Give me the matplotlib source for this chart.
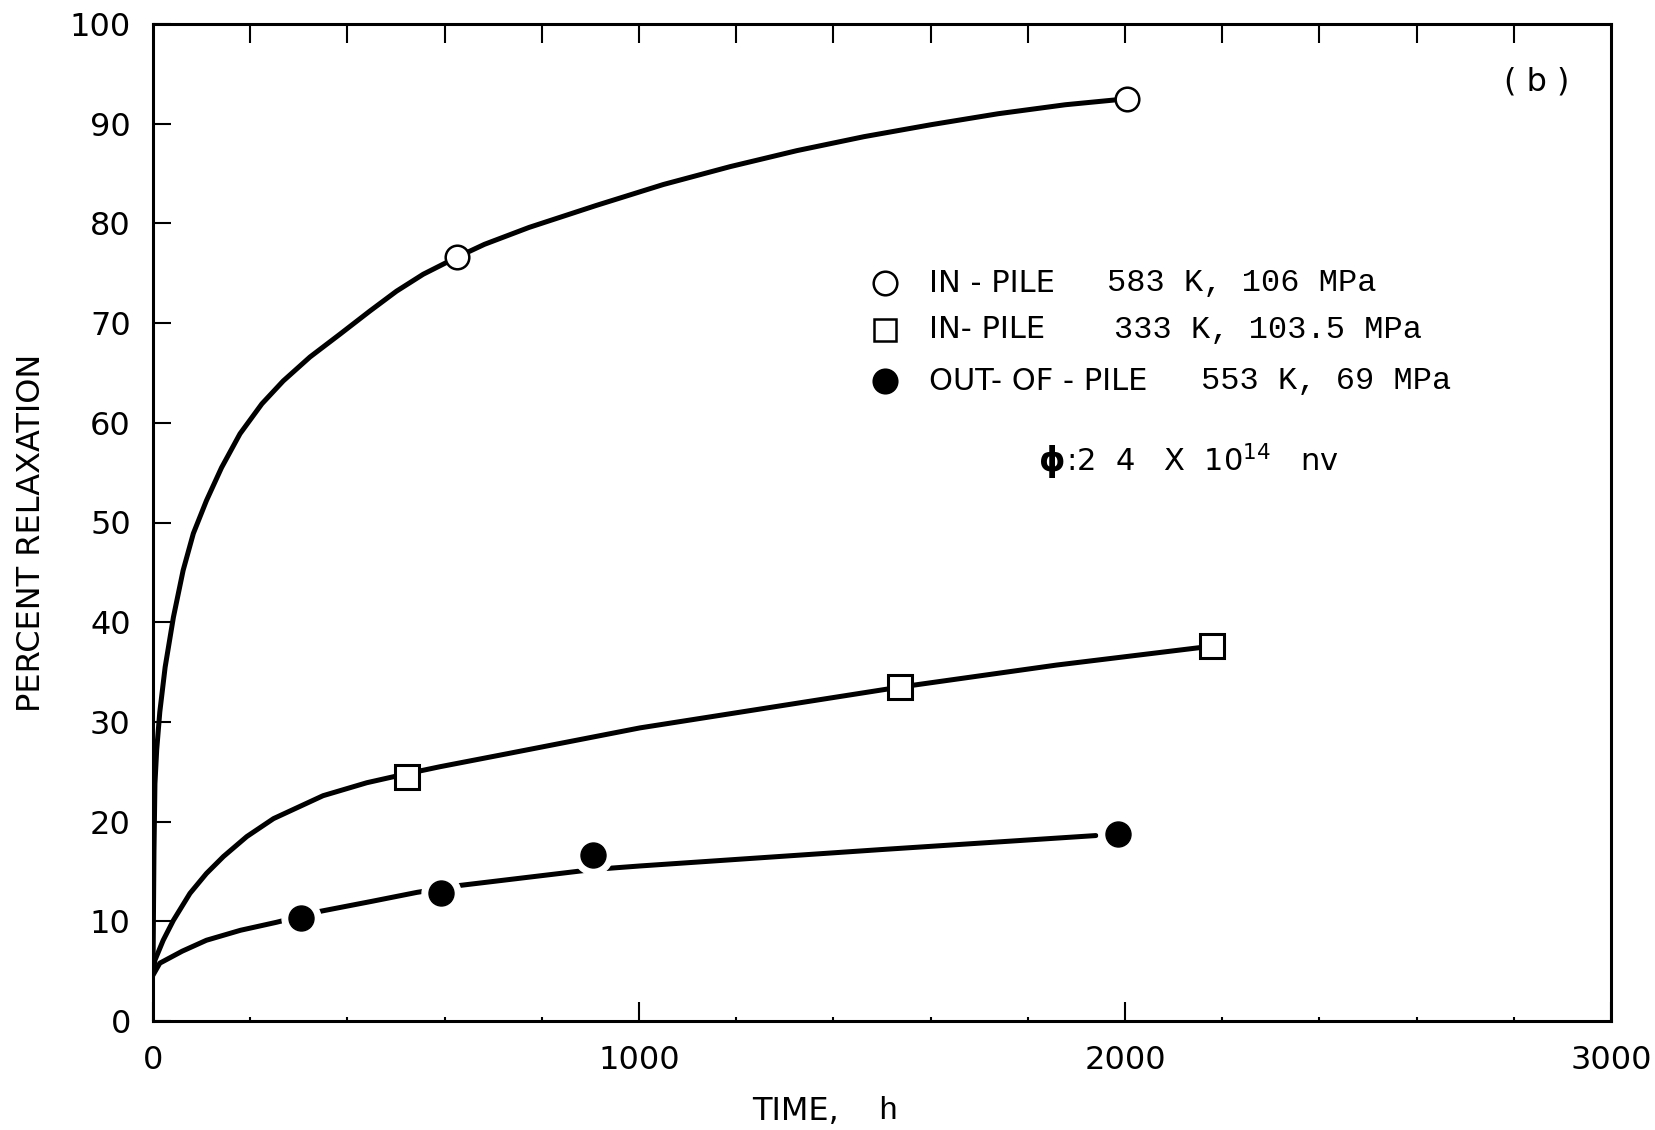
import numpy as np
import matplotlib
matplotlib.use("Agg")
import matplotlib.pyplot as plt
from matplotlib.ticker import MultipleLocator

# Measured points (time in h, percent relaxation)
IN583_T = [625, 2004]
IN583_V = [76.6, 92.5]
IN333_T = [522, 1538, 2179]
IN333_V = [24.5, 33.5, 37.6]
OUT553_T = [305, 593, 906, 1985]
OUT553_V = [10.3, 12.8, 16.7, 18.8]

# Hand-drawn fit curves
CURVE583_T = [0, 1, 2, 4, 7.6, 14, 25, 42, 62, 83, 110, 141, 179, 224, 268, 323,
              385, 446, 501, 556, 625, 682, 774, 912, 1050, 1188, 1325, 1463,
              1601, 1739, 1877, 2004]
CURVE583_V = [5, 11, 17, 23.8, 27.2, 31, 35.5, 40.5, 45.2, 48.9, 52.2, 55.5, 58.9,
              61.9, 64.2, 66.6, 68.9, 71.2, 73.2, 74.9, 76.6, 77.9, 79.6, 81.8,
              83.9, 85.7, 87.3, 88.7, 89.9, 91.0, 91.9, 92.5]
CURVE333_T = [0, 4, 21, 42, 76, 110, 145, 193, 248, 350, 440, 522, 590, 728, 865,
              1002, 1538, 1859, 2179]
CURVE333_V = [4.8, 6.1, 8.1, 10.1, 12.8, 14.8, 16.5, 18.5, 20.3, 22.6, 23.9, 24.8,
              25.5, 26.8, 28.1, 29.4, 33.5, 35.7, 37.6]
CURVE553_T = [0, 14, 60, 110, 180, 254, 344, 450, 543, 632, 906, 1002, 1500, 1940]
CURVE553_V = [4.6, 5.8, 7.0, 8.1, 9.1, 9.9, 11.0, 12.0, 12.9, 13.6, 15.2, 15.55,
              17.2, 18.6]

LEGEND_ROWS = [
    ("o", "white", "IN - PILE", "583 K, 106 MPa"),
    ("s", "white", "IN- PILE", "333 K, 103.5 MPa"),
    ("o", "black", "OUT- OF - PILE", "553 K, 69 MPa"),
]

SANS = "DejaVu Sans"
MONO = "Liberation Mono"

fig = plt.figure(figsize=(16.56, 11.3), dpi=100)
ax = fig.add_axes([153 / 1656, 1 - 1021 / 1130, 1458 / 1656, 997 / 1130])

lw = 3.6
for ct, cv in [(CURVE583_T, CURVE583_V), (CURVE333_T, CURVE333_V),
               (CURVE553_T, CURVE553_V)]:
    ax.plot(ct, cv, color="black", lw=lw, zorder=2, solid_capstyle="round",
            solid_joinstyle="round")

ax.plot(IN583_T, IN583_V, "o", ms=17, mfc="white", mec="black", mew=1.8, zorder=4)
ax.plot(IN333_T, IN333_V, "s", ms=17, mfc="white", mec="black", mew=2.2, zorder=4)
# white halo gives the gaps in the line next to the solid dots
ax.plot(OUT553_T, OUT553_V, "o", ms=28, color="white", zorder=3)
ax.plot(OUT553_T, OUT553_V, "o", ms=18, color="black", zorder=4)

ax.set_xlim(0, 3000)
ax.set_ylim(0, 100)
for sp in ax.spines.values():
    sp.set_linewidth(2.2)

ax.set_xticks([0, 1000, 2000, 3000])
ax.xaxis.set_minor_locator(MultipleLocator(200))
ax.yaxis.set_major_locator(MultipleLocator(10))
ax.tick_params(axis="x", which="major", direction="in", length=14, width=1.5, pad=17,
               labelsize=23)
ax.tick_params(axis="x", which="minor", direction="in", length=3, width=1.5)
ax.tick_params(axis="y", which="major", direction="in", length=13, width=1.5, pad=16,
               labelsize=23)
for lab in ax.get_xticklabels() + ax.get_yticklabels():
    lab.set_family(SANS)

top = ax.secondary_xaxis("top")
top.set_xticks(np.arange(200, 3000, 200))
top.tick_params(direction="in", length=14, width=1.5, labeltop=False)
top.set_xticklabels([])

# legend drawn by hand
rows_y = [283, 330, 381]
cond_x = [1107, 1114, 1201]
for (mk, fc, name, cond), yp, xp in zip(LEGEND_ROWS, rows_y, cond_x):
    yf = 1 - yp / 1130
    fig.lines.append(plt.Line2D([885 / 1656], [yf], marker=mk, ms=17 if mk == "o" else 16,
                                mfc=fc, mec="black", mew=1.8, ls="none",
                                transform=fig.transFigure))
    fig.text(929 / 1656, yf, name, family=SANS, fontsize=22, va="center", ha="left")
    fig.text(xp / 1656, yf, cond, family=MONO, fontsize=23, va="center", ha="left")

fig.text(1038 / 1656, 1 - 462 / 1130, r"$\mathbf{\phi}$", fontsize=24,
         va="center", ha="left")
fig.text(1066 / 1656, 1 - 461 / 1130, ":2  4   X  10$^{14}$   nv", family=SANS,
         fontsize=22, va="center", ha="left")

fig.text(1537 / 1656, 1 - 82 / 1130, "( b )", family=SANS, fontsize=23,
         va="center", ha="center")

fig.text(32 / 1656, 1 - 533 / 1130, "PERCENT RELAXATION", family=SANS, fontsize=23,
         rotation=90, va="center", ha="center")
fig.text(752 / 1656, 1 - 1111 / 1130, "TIME,", family=SANS, fontsize=23,
         va="center", ha="left")
fig.text(878 / 1656, 1 - 1111 / 1130, "h", family=MONO, fontsize=23,
         va="center", ha="left")

fig.savefig("out.png", dpi=100)
